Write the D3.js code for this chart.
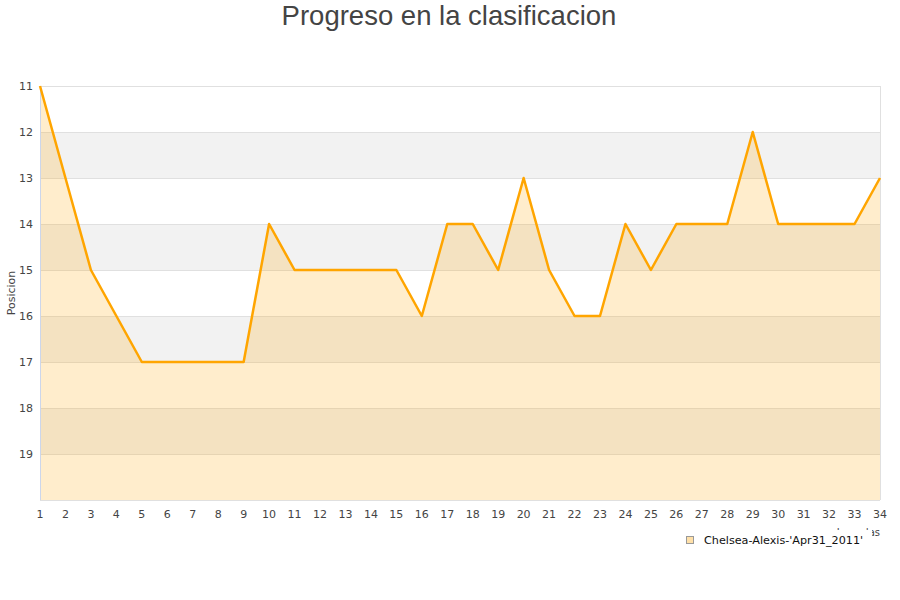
<!DOCTYPE html>
<html><head><meta charset="utf-8">
<script src="https://cdn.jsdelivr.net/npm/d3@7"></script>
<style>body{margin:0;background:#fff;} text{font-family:"DejaVu Sans",sans-serif;}</style>
</head><body>
<svg id="c" width="900" height="600"></svg>
<script>
const title = "Progreso en la clasificacion";
const yTitle = "Posicion";
const xTitle = "Jornadas";
const seriesName = "Chelsea-Alexis-'Apr31_2011'";
const rounds = d3.range(1, 35);
const positions = [11,13,15,16,17,17,17,17,17,14,15,15,15,15,15,16,14,14,15,13,15,16,16,14,15,14,14,14,12,14,14,14,14,13];
const yTicks = [11,12,13,14,15,16,17,18,19];

const svg = d3.select("#c");
const L = 40, R = 880, T = 86, B = 500;
const x = d3.scaleLinear().domain([1, 34]).range([L, R]);
const y = d3.scaleLinear().domain([11, 20]).range([T, B]);

// bands
const bands = d3.range(11, 20);
svg.selectAll("rect.band").data(bands).enter().append("rect")
  .attr("x", L).attr("width", R - L)
  .attr("y", d => y(d)).attr("height", d => y(d + 1) - y(d))
  .attr("fill", d => (d % 2 === 0) ? "#f2f2f2" : "#ffffff");

// grid
svg.selectAll("line.grid").data(d3.range(11, 21)).enter().append("line")
  .attr("x1", L).attr("x2", R).attr("y1", d => y(d)).attr("y2", d => y(d))
  .attr("stroke", "#e0e0e0").attr("stroke-width", 1).attr("shape-rendering", "crispEdges");

// area
const area = d3.area().x((d, i) => x(rounds[i])).y0(y(20)).y1(d => y(d));
svg.append("path").datum(positions).attr("d", area).attr("fill", "rgba(255,165,0,0.2)");

// frame
svg.append("line").attr("x1", R).attr("x2", R).attr("y1", T).attr("y2", B).attr("stroke", "#e0e0e0").attr("shape-rendering", "crispEdges");
svg.append("line").attr("x1", L).attr("x2", L).attr("y1", T).attr("y2", B).attr("stroke", "#ccd6eb").attr("shape-rendering", "crispEdges");

// line
const line = d3.line().x((d, i) => x(rounds[i])).y(d => y(d));
svg.append("path").datum(positions).attr("d", line).attr("fill", "none")
  .attr("stroke", "#ffa500").attr("stroke-width", 2.5).attr("stroke-linejoin", "round");

// y ticks
svg.selectAll("text.yt").data(yTicks).enter().append("text")
  .attr("x", 33).attr("y", d => y(d) + 4).attr("text-anchor", "end")
  .attr("font-size", 11).attr("fill", "#444").text(d => d);

// x ticks
svg.selectAll("text.xt").data(rounds).enter().append("text")
  .attr("x", d => x(d)).attr("y", 518).attr("text-anchor", "middle")
  .attr("font-size", 11).attr("fill", "#444").text(d => d);

// titles
svg.append("text").attr("x", 449).attr("y", 25).attr("text-anchor", "middle")
  .attr("font-size", 27.5).attr("fill", "#444")
  .style("font-family", "'Liberation Sans', Arial, sans-serif").text(title);
svg.append("text").attr("transform", "translate(15,293) rotate(-90)").attr("text-anchor", "middle")
  .attr("font-size", 11).attr("fill", "#444").text(yTitle);
svg.append("text").attr("x", 880).attr("y", 536).attr("text-anchor", "end")
  .attr("font-size", 10).attr("fill", "#444").text(xTitle);

// legend
const lg = svg.append("g");
lg.append("rect").attr("x", 680).attr("y", 530).attr("width", 192).attr("height", 20).attr("fill", "#fff");
lg.append("rect").attr("x", 686.5).attr("y", 536.5).attr("width", 7).attr("height", 7)
  .attr("fill", "#ffe0a8").attr("stroke", "#999").attr("stroke-width", 1);
lg.append("text").attr("x", 704).attr("y", 544).attr("font-size", 11.2).attr("fill", "#111").text(seriesName);
</script>
</body></html>
